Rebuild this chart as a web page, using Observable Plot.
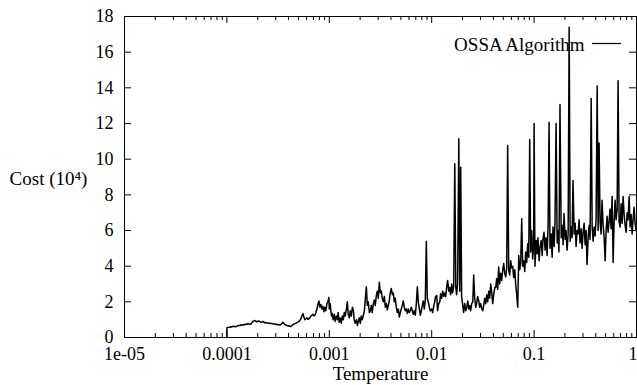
<!DOCTYPE html>
<html><head><meta charset="utf-8">
<script src="https://cdn.jsdelivr.net/npm/d3@7"></script>
<script src="https://cdn.jsdelivr.net/npm/@observablehq/plot@0.6"></script>
<style>body{margin:0;background:#fff;}</style>
</head><body><div id="chart"></div>
<script>
const temperature = [
1.00e-4,1.00e-4,1.02e-4,1.05e-4,1.07e-4,1.09e-4,1.12e-4,1.14e-4,1.17e-4,1.20e-4,1.22e-4,
1.25e-4,1.28e-4,1.31e-4,1.34e-4,1.37e-4,1.40e-4,1.43e-4,1.47e-4,1.50e-4,1.53e-4,
1.57e-4,1.60e-4,1.64e-4,1.68e-4,1.72e-4,1.75e-4,1.79e-4,1.84e-4,1.88e-4,1.92e-4,
1.96e-4,2.01e-4,2.05e-4,2.10e-4,2.15e-4,2.20e-4,2.25e-4,2.30e-4,2.35e-4,2.40e-4,
2.46e-4,2.52e-4,2.57e-4,2.63e-4,2.69e-4,2.75e-4,2.81e-4,2.88e-4,2.94e-4,3.01e-4,
3.08e-4,3.15e-4,3.22e-4,3.29e-4,3.37e-4,3.45e-4,3.52e-4,3.61e-4,3.69e-4,3.77e-4,
3.86e-4,3.94e-4,4.03e-4,4.13e-4,4.22e-4,4.31e-4,4.41e-4,4.51e-4,4.61e-4,4.72e-4,
4.83e-4,4.94e-4,5.05e-4,5.16e-4,5.28e-4,5.40e-4,5.52e-4,5.65e-4,5.78e-4,5.91e-4,
6.04e-4,6.18e-4,6.32e-4,6.47e-4,6.61e-4,6.76e-4,6.92e-4,7.08e-4,7.24e-4,7.40e-4,
7.57e-4,7.74e-4,7.92e-4,8.10e-4,8.28e-4,8.47e-4,8.66e-4,8.86e-4,9.06e-4,9.26e-4,
9.48e-4,9.69e-4,9.91e-4,
1.00e-3,1.02e-3,1.05e-3,1.07e-3,1.09e-3,1.12e-3,1.14e-3,1.17e-3,1.20e-3,1.22e-3,
1.25e-3,1.28e-3,1.31e-3,1.34e-3,1.37e-3,1.40e-3,1.43e-3,1.47e-3,1.50e-3,1.53e-3,
1.57e-3,1.60e-3,1.64e-3,1.68e-3,1.72e-3,1.75e-3,1.79e-3,1.84e-3,1.88e-3,1.92e-3,
1.96e-3,2.01e-3,2.05e-3,2.10e-3,2.15e-3,2.20e-3,2.25e-3,2.30e-3,2.35e-3,2.40e-3,
2.46e-3,2.52e-3,2.57e-3,2.63e-3,2.69e-3,2.75e-3,2.81e-3,2.88e-3,2.94e-3,3.01e-3,
3.08e-3,3.15e-3,3.22e-3,3.29e-3,3.37e-3,3.45e-3,3.52e-3,3.61e-3,3.69e-3,3.77e-3,
3.86e-3,3.94e-3,4.03e-3,4.13e-3,4.22e-3,4.31e-3,4.41e-3,4.51e-3,4.61e-3,4.72e-3,
4.83e-3,4.94e-3,5.05e-3,5.16e-3,5.28e-3,5.40e-3,5.52e-3,5.65e-3,5.78e-3,5.91e-3,
6.04e-3,6.18e-3,6.32e-3,6.47e-3,6.61e-3,6.76e-3,6.92e-3,7.08e-3,7.24e-3,7.40e-3,
7.57e-3,7.74e-3,7.92e-3,8.10e-3,8.28e-3,8.47e-3,8.66e-3,8.86e-3,9.06e-3,9.26e-3,
9.48e-3,9.69e-3,
1.00e-2,1.02e-2,1.05e-2,1.07e-2,1.09e-2,1.12e-2,1.14e-2,1.17e-2,1.20e-2,1.22e-2,
1.25e-2,1.28e-2,1.31e-2,1.34e-2,1.37e-2,1.40e-2,1.43e-2,1.47e-2,1.50e-2,1.53e-2,
1.57e-2,1.60e-2,1.64e-2,1.68e-2,1.72e-2,1.75e-2,1.79e-2,1.84e-2,1.88e-2,1.92e-2,
1.96e-2,2.01e-2,2.05e-2,2.10e-2,2.15e-2,2.20e-2,2.25e-2,2.30e-2,2.35e-2,2.40e-2,
2.46e-2,2.52e-2,2.57e-2,2.63e-2,2.69e-2,2.75e-2,2.81e-2,2.88e-2,2.94e-2,3.01e-2,
3.08e-2,3.15e-2,3.22e-2,3.29e-2,3.37e-2,3.45e-2,3.52e-2,3.61e-2,3.69e-2,3.77e-2,
3.86e-2,3.94e-2,4.03e-2,4.13e-2,4.22e-2,4.31e-2,4.41e-2,4.51e-2,4.61e-2,4.72e-2,
4.83e-2,4.94e-2,5.05e-2,5.16e-2,5.28e-2,5.40e-2,5.52e-2,5.65e-2,5.78e-2,5.91e-2,
6.04e-2,6.18e-2,6.32e-2,6.47e-2,6.61e-2,6.76e-2,6.92e-2,7.08e-2,7.24e-2,7.40e-2,
7.57e-2,7.74e-2,7.92e-2,8.10e-2,8.28e-2,8.47e-2,8.66e-2,8.86e-2,9.06e-2,9.26e-2,
9.48e-2,9.69e-2,9.91e-2,
1.00e-1,1.02e-1,1.05e-1,1.07e-1,1.09e-1,1.12e-1,1.14e-1,1.17e-1,1.20e-1,1.22e-1,
1.25e-1,1.28e-1,1.31e-1,1.34e-1,1.37e-1,1.40e-1,1.43e-1,1.47e-1,1.50e-1,1.53e-1,
1.57e-1,1.60e-1,1.64e-1,1.68e-1,1.72e-1,1.75e-1,1.79e-1,1.84e-1,1.88e-1,1.92e-1,
1.96e-1,2.01e-1,2.05e-1,2.10e-1,2.15e-1,2.20e-1,2.25e-1,2.30e-1,2.35e-1,2.40e-1,
2.46e-1,2.52e-1,2.57e-1,2.63e-1,2.69e-1,2.75e-1,2.81e-1,2.88e-1,2.94e-1,3.01e-1,
3.08e-1,3.15e-1,3.22e-1,3.29e-1,3.37e-1,3.45e-1,3.52e-1,3.61e-1,3.69e-1,3.77e-1,
3.86e-1,3.94e-1,4.03e-1,4.13e-1,4.22e-1,4.31e-1,4.41e-1,4.51e-1,4.61e-1,4.72e-1,
4.83e-1,4.94e-1,5.05e-1,5.16e-1,5.28e-1,5.40e-1,5.52e-1,5.65e-1,5.78e-1,5.91e-1,
6.04e-1,6.18e-1,6.32e-1,6.47e-1,6.61e-1,6.76e-1,6.92e-1,7.08e-1,7.24e-1,7.40e-1,
7.57e-1,7.74e-1,7.92e-1,8.10e-1,8.28e-1,8.47e-1,8.66e-1,8.86e-1,9.06e-1,9.26e-1,
9.48e-1,9.69e-1,9.91e-1
];
const cost = [
0,0.55,0.56,0.57,0.58,0.6,0.59,0.62,0.63,0.61,0.6,
0.64,0.66,0.68,0.67,0.71,0.7,0.69,0.73,0.72,0.75,
0.74,0.78,0.76,0.74,0.75,0.82,0.9,0.93,0.95,0.91,
0.88,0.92,0.93,0.89,0.85,0.87,0.9,0.86,0.82,0.84,
0.81,0.8,0.82,0.79,0.78,0.8,0.76,0.75,0.77,0.74,
0.72,0.73,0.71,0.7,0.74,0.8,0.85,0.78,0.72,0.7,
0.67,0.65,0.66,0.63,0.62,0.66,0.72,0.75,0.78,0.8,
0.84,0.86,0.9,0.96,1.05,1.2,1.35,1.15,1.0,1.05,
1.1,1.02,1.05,1.12,1.2,1.25,1.3,1.22,1.25,1.4,
1.6,1.85,2.05,1.7,1.85,1.6,1.75,1.45,1.7,1.5,
1.9,2.0,2.25,
1.6,1.9,1.2,1.35,1.0,1.3,0.9,1.2,1.0,1.4,
0.85,1.1,0.8,1.2,1.0,1.4,1.2,1.6,2.0,1.3,
1.1,1.5,1.2,1.7,1.5,1.0,0.8,1.0,0.67,0.9,
1.1,0.8,1.2,1.0,1.25,1.5,2.2,2.85,1.8,2.0,
1.4,1.5,1.8,1.4,1.9,2.1,1.8,2.35,2.6,2.2,
3.1,2.5,2.6,2.2,2.0,2.3,1.7,1.9,1.55,1.8,
2.1,2.5,2.75,2.4,2.5,2.0,2.2,1.7,1.4,1.6,
1.15,1.4,1.6,1.8,2.05,1.7,1.5,1.6,1.35,1.6,
1.4,1.5,1.7,1.5,1.3,1.5,1.25,1.9,2.85,2.0,
1.6,1.25,1.5,1.8,2.05,1.6,2.1,5.4,2.2,2.0,
1.7,1.5,
1.6,1.4,1.8,2.0,2.3,2.35,1.5,1.9,2.0,2.45,
2.2,2.6,2.3,2.5,2.3,2.8,3.2,2.6,2.8,2.4,
3.0,2.5,2.9,9.75,2.8,2.4,3.0,11.15,2.6,9.55,
2.3,1.8,1.4,1.9,1.5,1.7,2.05,1.6,1.8,1.5,
1.9,2.0,3.5,2.2,1.7,1.9,2.3,2.05,1.7,1.9,
1.6,1.5,1.8,2.2,1.9,2.4,2.0,2.6,2.2,3.0,
2.5,1.9,2.4,2.8,2.8,3.3,2.7,3.95,3.0,3.6,
3.2,3.8,4.15,3.6,3.4,3.9,10.77,3.76,3.5,4.3,
3.9,4.0,3.37,3.8,3.0,2.4,1.7,4.6,3.8,4.2,
6.66,4.0,4.3,3.7,4.8,4.2,5.26,4.5,11.1,4.8,
6.0,4.4,5.2,
12.0,4.0,5.44,4.7,5.6,4.3,5.0,5.44,4.6,5.5,
5.9,4.9,5.6,4.6,6.3,12.07,5.0,5.8,4.5,6.2,
5.1,6.5,12.0,5.3,6.0,4.8,13.07,5.6,6.3,5.2,
6.95,5.5,6.0,4.9,5.8,17.4,5.4,6.2,5.6,8.8,
5.8,6.4,5.1,6.0,5.8,6.6,5.3,6.1,5.0,5.9,
6.4,5.2,6.0,4.1,5.6,6.3,5.5,13.4,6.2,5.4,
6.2,5.7,6.6,14.1,6.0,10.9,6.5,5.8,7.7,6.3,
5.6,4.3,6.0,6.8,5.9,6.5,7.2,6.1,7.9,4.2,
6.4,7.7,6.6,7.2,14.4,6.5,6.2,7.5,6.4,7.9,
6.9,6.3,5.9,7.0,6.6,7.9,6.2,6.9,5.8,6.6,
7.3,6.4,6.0
];
const xTickValues = [1e-5, 1e-4, 1e-3, 1e-2, 1e-1, 1];
const xTickLabels = ["1e-05", "0.0001", "0.001", "0.01", "0.1", "1"];
const xMinorTicks = [
2e-5,3e-5,4e-5,5e-5,6e-5,7e-5,8e-5,9e-5,
2e-4,3e-4,4e-4,5e-4,6e-4,7e-4,8e-4,9e-4,
2e-3,3e-3,4e-3,5e-3,6e-3,7e-3,8e-3,9e-3,
2e-2,3e-2,4e-2,5e-2,6e-2,7e-2,8e-2,9e-2,
0.2,0.3,0.4,0.5,0.6,0.7,0.8,0.9
];
const yTickValues = [0, 2, 4, 6, 8, 10, 12, 14, 16, 18];
const seriesName = "OSSA Algorithm";
const xLabel = "Temperature";
const yLabel = "Cost (10\u2074)";

const data = temperature.map((t, i) => ({t, c: cost[i]}));
const W = 637, H = 385, mL = 124, mR = 1, mT = 16, mB = 48;
const innerW = W - mL - mR, innerH = H - mT - mB;
const font = "'Liberation Serif', 'Times New Roman', serif";
const fmtX = d => xTickLabels[xTickValues.indexOf(d)];

const plot = Plot.plot({
  width: W, height: H,
  marginLeft: mL, marginRight: mR, marginTop: mT, marginBottom: mB,
  style: {fontFamily: font, fontSize: "18px", background: "#fff", color: "#000"},
  x: {type: "log", domain: [1e-5, 1]},
  y: {domain: [0, 18]},
  marks: [
    Plot.tickX(xTickValues, {x: d => d, insetTop: innerH - 7, stroke: "#000"}),
    Plot.tickX(xTickValues, {x: d => d, insetBottom: innerH - 7, stroke: "#000"}),
    Plot.tickX(xMinorTicks, {x: d => d, insetTop: innerH - 4, stroke: "#000"}),
    Plot.tickX(xMinorTicks, {x: d => d, insetBottom: innerH - 4, stroke: "#000"}),
    Plot.tickY(yTickValues, {y: d => d, insetRight: innerW - 7, stroke: "#000"}),
    Plot.tickY(yTickValues, {y: d => d, insetLeft: innerW - 7, stroke: "#000"}),
    Plot.text([seriesName], {text: d => d, frameAnchor: "top-right", textAnchor: "end", lineAnchor: "middle", dx: -52, dy: 28, fontSize: 19, fill: "#000"}),
    Plot.line(data, {x: "t", y: "c", stroke: "#000", strokeWidth: 1.5}),
    Plot.frame({stroke: "#000"}),
    Plot.axisX({ticks: xTickValues.slice(0, 5), tickFormat: fmtX, tickSize: 0, tickPadding: 10, fontSize: 18, label: null}),
    Plot.axisX({ticks: xTickValues.slice(5), tickFormat: fmtX, tickSize: 0, tickPadding: 10, fontSize: 18, textAnchor: "end", dx: 1, label: null}),
    Plot.axisY({ticks: yTickValues, tickSize: 0, tickPadding: 11, fontSize: 18, label: null}),
    Plot.text([xLabel], {text: d => d, frameAnchor: "bottom", lineAnchor: "middle", textAnchor: "middle", dy: 36, fontSize: 19, fill: "#000"}),
    Plot.text([yLabel], {text: d => d, frameAnchor: "left", lineAnchor: "middle", textAnchor: "middle", dx: -76, dy: 2, fontSize: 19, fill: "#000"})
  ]
});

// legend key line
const svg = d3.select(plot);
svg.append("line")
  .attr("x1", W - mR - 44).attr("x2", W - mR - 15)
  .attr("y1", mT + 27.5).attr("y2", mT + 27.5)
  .attr("stroke", "#000").attr("stroke-width", 1.2);

document.getElementById("chart").appendChild(plot);
</script>
</body></html>
